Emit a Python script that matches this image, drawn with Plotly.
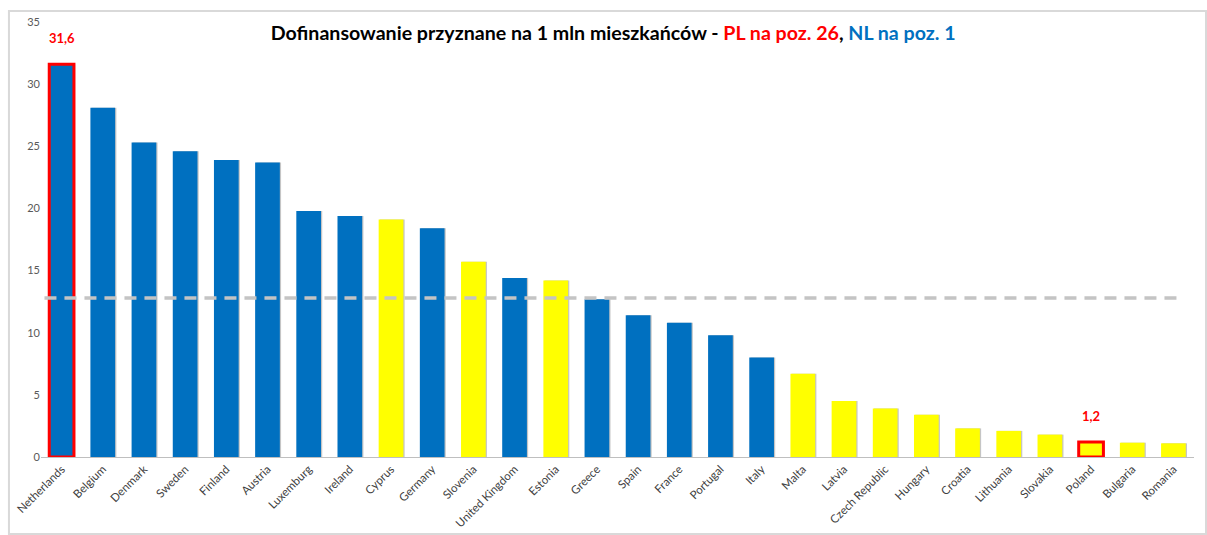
import plotly.graph_objects as go

countries = ["Netherlands", "Belgium", "Denmark", "Sweden", "Finland", "Austria", "Luxemburg",
             "Ireland", "Cyprus", "Germany", "Slovenia", "United Kingdom", "Estonia", "Greece",
             "Spain", "France", "Portugal", "Italy", "Malta", "Latvia", "Czech Republic",
             "Hungary", "Croatia", "Lithuania", "Slovakia", "Poland", "Bulgaria", "Romania"]
values = [31.6, 28.1, 25.3, 24.6, 23.9, 23.7, 19.8, 19.4, 19.1, 18.4, 15.7, 14.4, 14.2, 12.7,
          11.4, 10.8, 9.8, 8.0, 6.7, 4.5, 3.9, 3.4, 2.3, 2.1, 1.8, 1.2, 1.15, 1.1]
group = ["blue", "blue", "blue", "blue", "blue", "blue", "blue", "blue", "yellow", "blue",
         "yellow", "blue", "yellow", "blue", "blue", "blue", "blue", "blue", "yellow", "yellow",
         "yellow", "yellow", "yellow", "yellow", "yellow", "yellow", "yellow", "yellow"]
highlight = ["Netherlands", "Poland"]
average = 12.8
y_ticks = [0, 5, 10, 15, 20, 25, 30, 35]

color_map = {"blue": "#0070C0", "yellow": "#FFFF00"}
bar_colors = [color_map[g] for g in group]
line_colors = ["#FF0000" if c in highlight else "rgba(0,0,0,0)" for c in countries]
line_widths = [3 if c in highlight else 0 for c in countries]

fig = go.Figure()
# soft shadow
fig.add_trace(go.Bar(
    x=countries, y=values, marker_color="rgba(110,110,110,0.4)", marker_line_width=0,
    offset=-0.27, width=0.6, hoverinfo="skip", showlegend=False,
))
fig.add_trace(go.Bar(
    x=countries, y=values, marker_color=bar_colors,
    marker_line_color=line_colors, marker_line_width=line_widths,
    offset=-0.3, width=0.6, showlegend=False,
))

fig.add_shape(type="line", xref="paper", yref="y", x0=0.003, x1=0.99, y0=average, y1=average,
              line=dict(color="#C4C4C4", width=3.5, dash="12px,8px"), layer="above")

for c, v in zip(countries, values):
    if c in highlight:
        fig.add_annotation(x=c, y=v, text=f"<b>{str(v).replace('.', ',')}</b>", showarrow=False,
                           yshift=26, font=dict(color="#FF0000", size=13, family="Lato"))

fig.add_shape(type="rect", xref="paper", yref="paper", x0=-0.0278, x1=1.0104, y0=-0.177, y1=1.0253,
              line=dict(color="#D9D9D9", width=2), fillcolor="rgba(0,0,0,0)", layer="below")

fig.update_layout(
    width=1207, height=535,
    margin=dict(l=41, r=13, t=22, b=78),
    paper_bgcolor="white", plot_bgcolor="white",
    font=dict(family="Lato", color="#404040"),
    title=dict(
        text="<b>Dofinansowanie przyznane na 1 mln mieszkańców - "
             "<span style='color:#FF0000'>PL na poz. 26</span>, "
             "<span style='color:#0070C0'>NL na poz. 1</span></b>",
        x=0.508, xanchor="center", y=1 - 33 / 535, yanchor="middle",
        font=dict(size=19.6, color="#000000", family="Lato"),
    ),
    bargap=0.4,
    xaxis=dict(tickangle=-45, tickfont=dict(size=11.5, color="#404040"), showline=True,
               linecolor="#BFBFBF", linewidth=1, ticks="", showgrid=False, automargin=False),
    yaxis=dict(range=[0, 35], tickvals=y_ticks, tickfont=dict(size=11, color="#595959"),
               showgrid=False, zeroline=False, showline=False, ticks="", automargin=False),
)

fig.write_html("out.html", config={"displayModeBar": False},
               post_script="document.body.style.margin='0';document.body.style.overflow='hidden';")
